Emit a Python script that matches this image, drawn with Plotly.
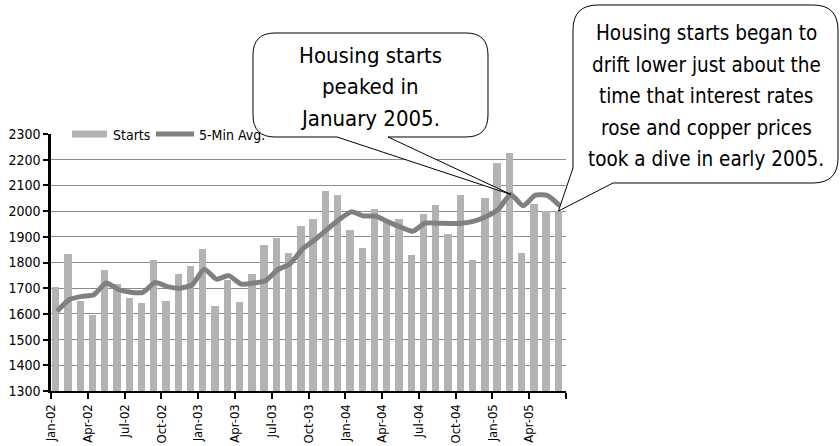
import plotly.graph_objects as go

# Monthly housing starts (thousands, annual rate) and a 5-month average
months = [
    "Jan-02", "Feb-02", "Mar-02", "Apr-02", "May-02", "Jun-02",
    "Jul-02", "Aug-02", "Sep-02", "Oct-02", "Nov-02", "Dec-02",
    "Jan-03", "Feb-03", "Mar-03", "Apr-03", "May-03", "Jun-03",
    "Jul-03", "Aug-03", "Sep-03", "Oct-03", "Nov-03", "Dec-03",
    "Jan-04", "Feb-04", "Mar-04", "Apr-04", "May-04", "Jun-04",
    "Jul-04", "Aug-04", "Sep-04", "Oct-04", "Nov-04", "Dec-04",
    "Jan-05", "Feb-05", "Mar-05", "Apr-05", "May-05", "Jun-05",
]
starts = [
    1705, 1835, 1650, 1597, 1772, 1716,
    1661, 1642, 1810, 1652, 1757, 1788,
    1854, 1632, 1730, 1647, 1755, 1870,
    1895, 1837, 1941, 1970, 2080, 2061,
    1928, 1857, 2010, 1957, 1970, 1828,
    1988, 2024, 1912, 2061, 1809, 2051,
    2188, 2227, 1837, 2029, 2000, 2000,
]
avg5 = [
    1610, 1656, 1668, 1675, 1720, 1695,
    1684, 1684, 1722, 1706, 1700, 1713,
    1774, 1735, 1749, 1716, 1720, 1729,
    1772, 1795, 1852, 1888, 1928, 1967,
    1997, 1981, 1980, 1958, 1938, 1922,
    1953, 1953, 1952, 1953, 1961, 1979,
    2008, 2065, 2021, 2062, 2060, 2020,
]
tick_labels = [
    "Jan-02", "Apr-02", "Jul-02", "Oct-02", "Jan-03", "Apr-03", "Jul-03",
    "Oct-03", "Jan-04", "Apr-04", "Jul-04", "Oct-04", "Jan-05", "Apr-05", "",
]
note_peak = ["Housing starts", "peaked in", "January 2005."]
note_drift = ["Housing starts began to", "drift lower just about the",
              "time that interest rates", "rose and copper prices",
              "took a dive in early 2005."]

FONT = "DejaVu Sans Condensed, Liberation Sans Narrow, sans-serif"
BAR_COLOR = "#b3b3b3"
LINE_COLOR = "#808080"

# Page geometry (pixels) and axis ranges
W, H = 840, 446
ML, MR, MT, MB = 51, 274, 134, 55
PW, PH = W - ML - MR, H - MT - MB
X0, X1 = -0.5, len(months) - 0.5
Y0, Y1 = 1300, 2300
BAR_OFFSET = -0.42
BAR_WIDTH = 0.6


def data_px(x, y):
    return (ML + (x - X0) / (X1 - X0) * PW, H - MB - (y - Y0) / (Y1 - Y0) * PH)


def paper(x, y):
    return ((x - ML) / PW, (H - MB - y) / PH)


def bubble_path(x0, y0, x1, y1, r, tip, base_a, base_b, side="bottom"):
    """Rounded callout box with a wedge pointing to `tip` (all in pixels)."""
    if side == "bottom":
        pts = [("M", base_a), ("L", (x0 + r, y1)), ("Q", (x0, y1), (x0, y1 - r)),
               ("L", (x0, y0 + r)), ("Q", (x0, y0), (x0 + r, y0)),
               ("L", (x1 - r, y0)), ("Q", (x1, y0), (x1, y0 + r)),
               ("L", (x1, y1 - r)), ("Q", (x1, y1), (x1 - r, y1)),
               ("L", base_b), ("L", tip)]
    else:  # wedge leaves from the lower-left corner
        pts = [("M", base_b), ("L", (x1 - r, y1)), ("Q", (x1, y1), (x1, y1 - r)),
               ("L", (x1, y0 + r)), ("Q", (x1, y0), (x1 - r, y0)),
               ("L", (x0 + r, y0)), ("Q", (x0, y0), (x0, y0 + r)),
               ("L", base_a), ("L", tip)]
    out = []
    for cmd, *ps in pts:
        coords = " ".join("%.5f,%.5f" % paper(*p) for p in ps)
        out.append(cmd + " " + coords)
    return " ".join(out) + " Z"


def text_lines(lines, cx, first_y, step, size):
    """One centred annotation per line so the leading can be set exactly."""
    return [dict(xref="paper", yref="paper", x=paper(cx, 0)[0],
                 y=paper(0, first_y + k * step)[1], text=t, showarrow=False,
                 xanchor="center", yanchor="middle",
                 font=dict(family=FONT, size=size, color="black"))
            for k, t in enumerate(lines)]


fig = go.Figure()
xs = list(range(len(months)))
fig.add_trace(go.Bar(
    x=xs, y=starts, name="Starts", marker_color=BAR_COLOR, marker_line_width=0,
    width=BAR_WIDTH, offset=BAR_OFFSET, showlegend=False,
))
fig.add_trace(go.Scatter(
    x=xs, y=avg5, name="5-Min Avg.", mode="lines",
    line=dict(color=LINE_COLOR, width=5, shape="spline", smoothing=0.6),
    showlegend=False,
))

fig.update_xaxes(
    range=[X0, X1], tickmode="array",
    tickvals=[X0 + 3 * k for k in range(len(tick_labels))], ticktext=tick_labels,
    tickangle=-90, ticks="outside", ticklen=6, tickwidth=2, tickcolor="black",
    showline=True, linecolor="black", linewidth=2, showgrid=False, zeroline=False,
    layer="below traces", tickfont=dict(family=FONT, size=13, color="black"),
)
fig.update_yaxes(
    range=[Y0, Y1], dtick=100, tick0=1300,
    ticks="outside", ticklen=5, tickwidth=2, tickcolor="black",
    showline=True, linecolor="black", linewidth=2.5,
    showgrid=True, gridcolor="#8c8c8c", gridwidth=1, zeroline=False,
    tickfont=dict(family=FONT, size=14, color="black"),
)

shapes = []
annotations = []

# Legend drawn on the top gridline
shapes.append(dict(type="rect", xref="paper", yref="paper",
                   x0=paper(72, 0)[0], x1=paper(107, 0)[0],
                   y0=paper(0, 137.5)[1], y1=paper(0, 130.5)[1],
                   fillcolor=BAR_COLOR, line_width=0))
annotations.append(dict(xref="paper", yref="paper", x=paper(111, 0)[0], y=paper(0, 135)[1],
                        text="Starts", showarrow=False, xanchor="left", yanchor="middle",
                        font=dict(family=FONT, size=14, color="black")))
shapes.append(dict(type="line", xref="paper", yref="paper",
                   x0=paper(156, 0)[0], x1=paper(194, 0)[0], y0=1, y1=1,
                   line=dict(color=LINE_COLOR, width=5)))
annotations.append(dict(xref="paper", yref="paper", x=paper(197, 0)[0], y=paper(0, 135)[1],
                        text="5-Min Avg.", showarrow=False, xanchor="left", yanchor="middle",
                        font=dict(family=FONT, size=14, color="black")))

# Callout: peak of the average in early 2005
peak_i = avg5.index(max(avg5))
tip1 = data_px(peak_i, avg5[peak_i])
shapes.append(dict(type="path", xref="paper", yref="paper",
                   path=bubble_path(253, 33, 488, 137, 22, tip1, (337, 137), (388, 137)),
                   fillcolor="white", line=dict(color="black", width=1)))
annotations += text_lines(note_peak, 370, 55, 31.5, 22)

# Callout: latest month
last_i = len(months) - 1
tip2 = data_px(last_i + BAR_OFFSET + BAR_WIDTH / 2, starts[last_i])
shapes.append(dict(type="path", xref="paper", yref="paper",
                   path=bubble_path(573, 5, 838, 183, 25, tip2, (573, 168), (613, 183),
                                    side="corner"),
                   fillcolor="white", line=dict(color="black", width=1)))
annotations += text_lines(note_drift, 706, 33, 31.5, 20.5)

fig.update_layout(
    width=W, height=H, margin=dict(l=ML, r=MR, t=MT, b=MB, autoexpand=False),
    plot_bgcolor="white", paper_bgcolor="white",
    bargap=0, shapes=shapes, annotations=annotations, showlegend=False,
    font=dict(family=FONT, color="black"),
)

fig.write_html("out.html")
